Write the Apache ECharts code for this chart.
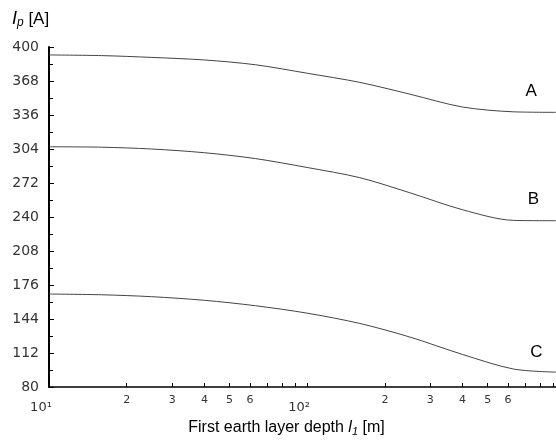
<!DOCTYPE html>
<html>
<head>
<meta charset="utf-8">
<script src="https://cdn.jsdelivr.net/npm/echarts@6/dist/echarts.min.js"></script>
<style>
  html, body { margin: 0; padding: 0; background: #fff; }
  #main { width: 556px; height: 447px; }
</style>
</head>
<body>
<div id="main"></div>
<script>
var myChart = echarts.init(document.getElementById('main'));

// depth of first earth layer l1 [m] (log scale) and current Ip [A]
const depth = [10, 16, 25, 40, 63, 100, 160, 250, 400, 630, 920];
const curveA = [392.5, 391.9, 390.2, 387.8, 383.3, 375.3, 366.7, 355.6, 343.5, 339, 338.5];
const curveB = [306.1, 305.7, 304, 300.5, 295, 286.6, 277, 262.8, 246.8, 236.8, 236.5];
const curveC = [167.5, 166.8, 165, 161.6, 156.5, 149.5, 139.8, 127, 110.6, 96.9, 94];

// curve names and where they are written (depth, Ip)
const curveNames = ['A', 'B', 'C'];
const namePos = [[738, 358], [752, 257], [772, 113]];

// tick values on the x axis
const xTicks = [10, 20, 30, 40, 50, 60, 70, 80, 90, 100, 200, 300, 400, 500, 600, 700, 800, 900];
const xLabels = [10, 20, 30, 40, 50, 60, 100, 200, 300, 400, 500, 600];

const curves = [curveA, curveB, curveC];

var option = {
    animation: false,
    title: {
        text: '{i|I}{s|p}{n| [A]}',
        left: 7,
        top: 4,
        textStyle: {
            fontWeight: 'normal',
            rich: {
                i: { fontFamily: 'Liberation Sans', fontStyle: 'italic', fontWeight: 'normal', fontSize: 18, color: '#000' },
                s: { fontFamily: 'Liberation Sans', fontStyle: 'italic', fontWeight: 'normal', fontSize: 12, color: '#000', padding: [8, 0, 0, 0] },
                n: { fontFamily: 'Liberation Sans', fontWeight: 'normal', fontSize: 17, color: '#000' }
            }
        }
    },
    grid: {
        left: 49,
        right: 0,
        top: 47,
        bottom: 60
    },
    xAxis: {
        type: 'log',
        logBase: 10,
        min: 10,
        max: 920,
        name: '{n|First earth layer depth }{i|l}{s|1}{n| [m]}',
        nameLocation: 'middle',
        nameGap: 32,
        nameTextStyle: {
            padding: [0, 32, 0, 0],
            rich: {
                n: { fontFamily: 'Liberation Sans', fontSize: 16, color: '#000' },
                i: { fontFamily: 'Liberation Sans', fontStyle: 'italic', fontSize: 16, color: '#000' },
                s: { fontFamily: 'Liberation Sans', fontStyle: 'italic', fontSize: 11, color: '#000', padding: [7, 0, 0, 0] }
            }
        },
        axisLine: { show: true, lineStyle: { color: '#000', width: 1.5 } },
        axisTick: {
            show: true,
            inside: true,
            length: 4,
            customValues: xTicks,
            lineStyle: { color: '#000' }
        },
        axisLabel: {
            customValues: xLabels,
            margin: 8,
            color: '#222',
            formatter: function (v) {
                var r = Math.round(v);
                if (r === 10) return '{p|10¹}';
                if (r === 100) return '{p|10²}';
                return '{d|' + String(r).charAt(0) + '}';
            },
            rich: {
                p: { fontFamily: 'DejaVu Sans', fontSize: 13, color: '#333', padding: [6, 16, 0, 0] },
                d: { fontFamily: 'DejaVu Sans', fontSize: 11, color: '#333' }
            }
        },
        splitLine: { show: false },
        minorSplitLine: { show: false }
    },
    yAxis: {
        type: 'value',
        min: 80,
        max: 400,
        interval: 32,
        axisLine: { show: true, lineStyle: { color: '#000', width: 2 } },
        axisTick: { show: true, inside: true, length: 5, lineStyle: { color: '#000' } },
        minorTick: { show: true, splitNumber: 2, length: 4, lineStyle: { color: '#000' } },
        axisLabel: {
            margin: 10,
            fontFamily: 'DejaVu Sans',
            fontSize: 14,
            color: '#333'
        },
        splitLine: { show: false }
    },
    series: curves.map(function (vals, k) {
        return {
            name: curveNames[k],
            type: 'line',
            data: depth.map(function (d, i) { return [d, vals[i]]; }),
            smooth: 0.3,
            showSymbol: false,
            lineStyle: { color: '#444', width: 1 },
            markPoint: {
                symbol: 'circle',
                symbolSize: 0,
                data: [{ coord: namePos[k] }],
                label: {
                    show: true,
                    formatter: curveNames[k],
                    position: 'inside',
                    fontFamily: 'Liberation Sans',
                    fontSize: 17,
                    color: '#000'
                }
            }
        };
    })
};

myChart.setOption(option);
</script>
</body>
</html>
